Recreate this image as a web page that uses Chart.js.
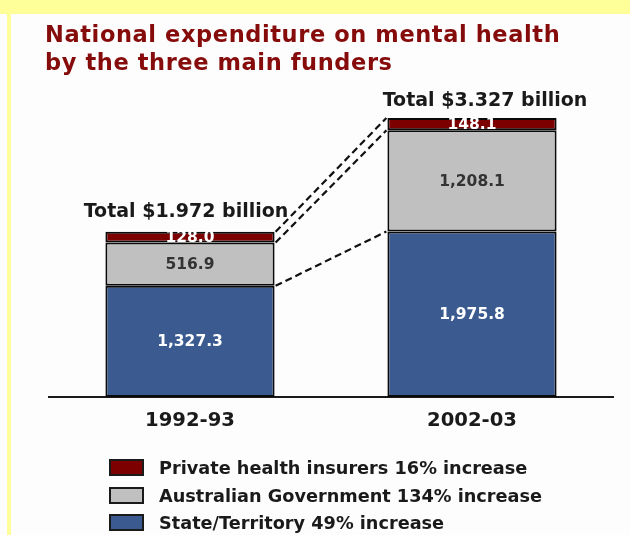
<!DOCTYPE html>
<html>
<head>
<meta charset="utf-8">
<script src="https://cdn.jsdelivr.net/npm/chart.js@4.4.1/dist/chart.umd.min.js"></script>
<style>
  html, body { margin: 0; padding: 0; }
  body { width: 630px; height: 535px; position: relative; background: #fdfdfd; overflow: hidden; font-family: "DejaVu Sans", Verdana, sans-serif; }
  .band-top { position: absolute; left: 0; top: 0; width: 630px; height: 14px; background: #ffff99; }
  .band-left { position: absolute; left: 7px; top: 0; width: 4px; height: 535px; background: #ffff99; }
  #title { position: absolute; left: 45px; top: 21px; margin: 0; font-size: 22.5px; line-height: 27.5px; font-weight: bold; letter-spacing: 0.6px; color: #860b0b; z-index: 2; }
  #chart { position: absolute; left: 0; top: 0; }
  #legend { position: absolute; left: 109px; top: 459px; z-index: 2; }
  .item { display: flex; align-items: center; height: 27.5px; }
  .box { width: 31px; height: 13px; border: 2px solid #1a1a1a; margin-right: 15px; box-sizing: content-box; align-self: flex-start; }
  .item span { font-size: 17.7px; font-weight: bold; color: #1a1a1a; margin-top: -9px; }
</style>
</head>
<body>
<div class="band-top"></div>
<div class="band-left"></div>
<h1 id="title">National expenditure on mental health<br>by the three main funders</h1>
<canvas id="chart" width="630" height="535"></canvas>
<div id="legend"></div>
<script>
const periods = ['1992-93', '2002-03'];
const stateTerritory = [1327.3, 1975.8];
const ausGovernment = [516.9, 1208.1];
const privateInsurers = [128.0, 148.1];
const totalLabels = ['Total $1.972 billion', 'Total $3.327 billion'];
const seriesNames = [
    'State/Territory 49% increase',
    'Australian Government 134% increase',
    'Private health insurers 16% increase'
];

const FONT = '"DejaVu Sans", Verdana, sans-serif';
const fmt = v => v.toLocaleString('en-US', { minimumFractionDigits: 1, maximumFractionDigits: 1 });

// values inside each segment, totals above, dashed links between the two bars
const barText = {
    id: 'barText',
    afterDatasetsDraw(chart, args, opts) {
        const ctx = chart.ctx;
        ctx.save();
        ctx.textAlign = 'center';
        ctx.textBaseline = 'middle';
        ctx.font = 'bold 15.5px ' + FONT;
        chart.data.datasets.forEach((ds, di) => {
            chart.getDatasetMeta(di).data.forEach((bar, i) => {
                ctx.fillStyle = ds.textColor;
                ctx.fillText(fmt(ds.data[i]), bar.x, (bar.y + bar.base) / 2 + 1);
            });
        });

        // dashed lines joining matching segment tops
        ctx.strokeStyle = '#111';
        ctx.lineWidth = 2.2;
        ctx.setLineDash([7, 4]);
        chart.data.datasets.forEach((ds, di) => {
            const [a, b] = chart.getDatasetMeta(di).data;
            ctx.beginPath();
            ctx.moveTo(a.x + a.width / 2 + 1, a.y);
            ctx.lineTo(b.x - b.width / 2 - 1, b.y);
            ctx.stroke();
        });
        ctx.setLineDash([]);

        const topMeta = chart.getDatasetMeta(chart.data.datasets.length - 1);
        ctx.font = 'bold 19px ' + FONT;
        ctx.fillStyle = '#1a1a1a';
        ctx.textBaseline = 'alphabetic';
        topMeta.data.forEach((bar, i) => {
            ctx.fillText(totalLabels[i], bar.x + opts.dx[i], bar.y - opts.gap[i]);
        });
        ctx.restore();
    }
};

const chart = new Chart(document.getElementById('chart'), {
    type: 'bar',
    data: {
        labels: periods,
        datasets: [
            { label: seriesNames[0], data: stateTerritory, backgroundColor: '#3b5b90', textColor: '#ffffff' },
            { label: seriesNames[1], data: ausGovernment, backgroundColor: '#c0c0c0', textColor: '#333333' },
            { label: seriesNames[2], data: privateInsurers, backgroundColor: '#7d0000', textColor: '#ffffff' }
        ].map(d => Object.assign(d, {
            borderColor: '#0a0a0a', borderWidth: 2, borderSkipped: false,
            categoryPercentage: 1, barPercentage: 0.6
        }))
    },
    options: {
        responsive: false,
        animation: false,
        layout: { padding: { top: 62, left: 49, right: 17, bottom: 0 } },
        plugins: {
            legend: { display: false },
            tooltip: { enabled: false },
            barText: { dx: [-4, 13], gap: [15, 12] }
        },
        scales: {
            x: {
                stacked: true,
                grid: { display: false, drawTicks: false },
                border: { color: '#1a1a1a', width: 2 },
                ticks: { padding: 12, color: '#1a1a1a', font: { family: FONT, size: 19.6, weight: 'bold' } },
                afterFit: s => { s.height = 138; }
            },
            y: { stacked: true, display: false, min: 0, max: 4000 }
        }
    },
    plugins: [barText]
});

// legend listed top-down, last series first
document.getElementById('legend').innerHTML = chart.data.datasets.slice().reverse().map(ds =>
    `<div class="item"><div class="box" style="background:${ds.backgroundColor}"></div><span>${ds.label}</span></div>`
).join('');
</script>
</body>
</html>
